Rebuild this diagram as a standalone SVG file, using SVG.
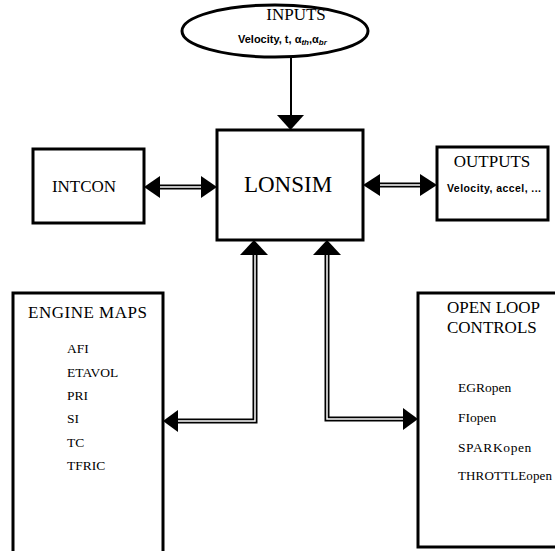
<svg xmlns="http://www.w3.org/2000/svg" width="555" height="551" viewBox="0 0 555 551">
<style>
.box{fill:#fff;stroke:#000;stroke-width:3}
.t{font-family:"Liberation Serif","Times New Roman",serif;fill:#000}
.s{font-family:"Liberation Sans",Arial,sans-serif;fill:#000;font-weight:bold}
.dl{fill:none;stroke:#000;stroke-width:5}
.dw{fill:none;stroke:#fff;stroke-width:1.5}
.ah{fill:#000}
</style>
<rect width="555" height="551" fill="#fff"/>
<g id="inputs">
<ellipse cx="275" cy="31" rx="93" ry="26" fill="#fff" stroke="#000" stroke-width="3"/>
<text class="t" x="296" y="20" font-size="17" text-anchor="middle">INPUTS</text>
<text class="s" x="238" y="43" font-size="11">Velocity, t, α<tspan font-size="8" dy="2" font-style="italic">th</tspan><tspan dy="-2">,α</tspan><tspan font-size="8" dy="2" font-style="italic">br</tspan></text>
</g>
<g id="lonsim">
<rect class="box" x="217" y="130" width="146" height="110"/>
<text class="t" x="288" y="192" font-size="23" text-anchor="middle">LONSIM</text>
</g>
<g id="intcon">
<rect class="box" x="33" y="149" width="111" height="74"/>
<text class="t" x="84" y="192" font-size="17" text-anchor="middle">INTCON</text>
</g>
<g id="outputs">
<rect class="box" x="437" y="147" width="111" height="73"/>
<text class="t" x="492" y="167" font-size="17" text-anchor="middle">OUTPUTS</text>
<text class="s" x="447" y="192" font-size="10.5" textLength="94">Velocity, accel, ...</text>
</g>
<g id="engine-maps">
<rect class="box" x="13" y="293" width="150" height="262"/>
<text class="t" x="28" y="318" font-size="17" textLength="119">ENGINE MAPS</text>
<text class="t" x="67" y="353" font-size="13.5">AFI</text>
<text class="t" x="67" y="377" font-size="13.5">ETAVOL</text>
<text class="t" x="67" y="400" font-size="13.5">PRI</text>
<text class="t" x="67" y="423" font-size="13.5">SI</text>
<text class="t" x="67" y="447" font-size="13.5">TC</text>
<text class="t" x="67" y="470" font-size="13.5">TFRIC</text>
</g>
<g id="open-loop-controls">
<rect class="box" x="418" y="293" width="150" height="254"/>
<text class="t" x="447" y="313" font-size="17">OPEN LOOP</text>
<text class="t" x="447" y="333" font-size="17">CONTROLS</text>
<text class="t" x="458" y="392" font-size="13.5">EGRopen</text>
<text class="t" x="458" y="422" font-size="13.5">FIopen</text>
<text class="t" x="458" y="452" font-size="13.5" letter-spacing="0.6">SPARKopen</text>
<text class="t" x="458" y="480" font-size="13" textLength="94">THROTTLEopen</text>
</g>
<g id="connectors">
<line x1="291" y1="57" x2="291" y2="116" stroke="#000" stroke-width="2"/>
<polygon class="ah" points="277,115 304,115 290.5,130"/>
<path class="dl" d="M159,187 H202"/><path class="dw" d="M159,187 H202"/>
<polygon class="ah" points="144,187 160,176 160,198"/>
<polygon class="ah" points="217,187 201,176 201,198"/>
<path class="dl" d="M379,185 H421"/><path class="dw" d="M379,185 H421"/>
<polygon class="ah" points="363,185 380,174 380,196"/>
<polygon class="ah" points="437,185 420,174 420,196"/>
<path class="dl" d="M255,254 V421 H177"/><path class="dw" d="M255,254 V421 H177"/>
<polygon class="ah" points="254,240 240,255 268,255"/>
<polygon class="ah" points="163,421 178,410 178,432"/>
<path class="dl" d="M327,254 V419 H404"/><path class="dw" d="M327,254 V419 H404"/>
<polygon class="ah" points="327,240 313,255 341,255"/>
<polygon class="ah" points="418,419 403,408 403,430"/>
</g>
</svg>
